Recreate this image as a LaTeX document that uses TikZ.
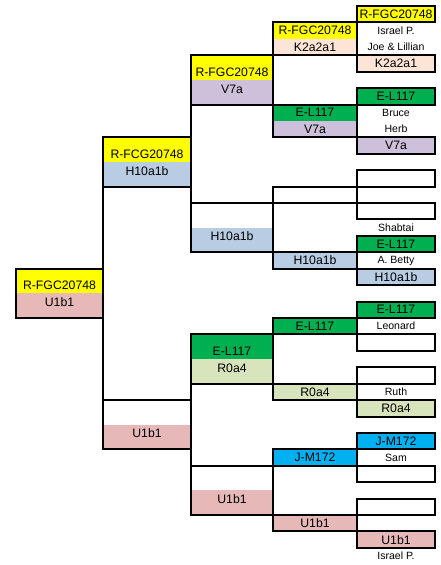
\documentclass[tikz,border=0pt]{standalone}
\usepackage{fontspec}
\setmainfont{Liberation Sans}
\usetikzlibrary{positioning}
\usepackage{xcolor}
\definecolor{sunflower}{rgb}{1, 1, 0}
\definecolor{peach}{rgb}{0.98824, 0.89412, 0.83922}
\definecolor{lilac}{rgb}{0.8, 0.75294, 0.85490}
\definecolor{powder}{rgb}{0.72157, 0.8, 0.89412}
\definecolor{emerald}{rgb}{0, 0.69020, 0.31373}
\definecolor{sage}{rgb}{0.84706, 0.89412, 0.73725}
\definecolor{azure}{rgb}{0, 0.69020, 0.94118}
\definecolor{rose}{rgb}{0.90196, 0.72157, 0.71765}

\begin{document}
\begin{tikzpicture}[x=0.75pt, y=-12.315pt,
  cell/.style={rectangle, inner sep=0pt, outer sep=0pt, anchor=north west,
    minimum height=12.315pt, font=\fontsize{9.2}{11}\selectfont},
  boxed/.style={cell, draw, line width=1.5pt},
  top band/.style={cell, minimum height=18.47pt, text height=13.4pt, text depth=0pt},
  low band/.style={cell, minimum height=18.47pt, text height=6.6pt, text depth=5.25pt},
  person name/.style={cell, font=\fontsize{7.9}{9}\selectfont},
  tree line/.style={line width=1.5pt},
  gen0/.style={minimum width=65.25pt},
  gen1/.style={minimum width=66pt},
  gen2/.style={minimum width=61.5pt},
  gen3/.style={minimum width=63pt},
  gen4/.style={minimum width=58.5pt}]
	% x counts pixels, y counts rows of the chart (row 0 starts 6px down).
	\useasboundingbox (0,-0.3654) rectangle (441,34.044);

	% Great-grandparents: one boxed row each, the name next to it.
	\node[boxed, gen4, fill=sunflower] (ffff) at (357,0) {R-FGC20748};
	\node[person name, below=0pt of ffff] (ffff-name) {Israel P.};
	\node[boxed, gen4, fill=peach] (fffm) at (357,3) {K2a2a1};
	\node[person name, above=0pt of fffm] (fffm-name) {Joe \& Lillian};
	\node[boxed, gen4, fill=emerald] (ffmf) at (357,5) {E-L117};
	\node[person name, below=0pt of ffmf] (ffmf-name) {Bruce};
	\node[boxed, gen4, fill=lilac] (ffmm) at (357,8) {V7a};
	\node[person name, above=0pt of ffmm] (ffmm-name) {Herb};
	\node[boxed, gen4] (fmff) at (357,10) {};
	\node[boxed, gen4] (fmfm) at (357,12) {};
	\node[boxed, gen4, fill=emerald] (fmmf) at (357,14) {E-L117};
	\node[person name, above=0pt of fmmf] (fmmf-name) {Shabtai};
	\node[boxed, gen4, fill=powder] (fmmm) at (357,16) {H10a1b};
	\node[person name, above=0pt of fmmm] (fmmm-name) {A. Betty};
	\node[boxed, gen4, fill=emerald] (mfff) at (357,18) {E-L117};
	\node[person name, below=0pt of mfff] (mfff-name) {Leonard};
	\node[boxed, gen4] (mffm) at (357,20) {};
	\node[boxed, gen4] (mfmf) at (357,22) {};
	\node[boxed, gen4, fill=sage] (mfmm) at (357,24) {R0a4};
	\node[person name, above=0pt of mfmm] (mfmm-name) {Ruth};
	\node[boxed, gen4, fill=azure] (mmff) at (357,26) {J-M172};
	\node[person name, below=0pt of mmff] (mmff-name) {Sam};
	\node[boxed, gen4] (mmfm) at (357,28) {};
	\node[boxed, gen4] (mmmf) at (357,30) {};
	\node[boxed, gen4, fill=rose] (mmmm) at (357,32) {U1b1};
	\node[person name, below=0pt of mmmm] (mmmm-name) {Israel P.};

	% Grandparents' parents.
	\node[cell, gen3, fill=sunflower] (fff-y) at (273,1) {R-FGC20748};
	\node[cell, gen3, fill=peach, below=0pt of fff-y] (fff-mt) {K2a2a1};
	\draw[tree line] (fff-y.north west) rectangle (fff-mt.south east);
	\node[cell, gen3, fill=emerald] (ffm-y) at (273,6) {E-L117};
	\node[cell, gen3, fill=lilac, below=0pt of ffm-y] (ffm-mt) {V7a};
	\draw[tree line] (ffm-y.north west) rectangle (ffm-mt.south east);
	\node[boxed, gen3] (fmf) at (273,11) {};
	\node[boxed, gen3, fill=powder] (fmm) at (273,15) {H10a1b};
	\node[boxed, gen3, fill=emerald] (mff) at (273,19) {E-L117};
	\node[boxed, gen3, fill=sage] (mfm) at (273,23) {R0a4};
	\node[boxed, gen3, fill=azure] (mmf) at (273,27) {J-M172};
	\node[boxed, gen3, fill=rose] (mmm) at (273,31) {U1b1};

	% Grandparents: Y band over mt band.
	\node[top band, gen2, fill=sunflower] (ff-y) at (191,3) {R-FGC20748};
	\node[low band, gen2, fill=lilac, below=0pt of ff-y] (ff-mt) {V7a};
	\draw[tree line] (ff-y.north west) rectangle (ff-mt.south east);
	\node[top band, gen2] (fm-y) at (191,12) {};
	\node[low band, gen2, fill=powder, below=0pt of fm-y] (fm-mt) {H10a1b};
	\draw[tree line] (fm-y.north west) rectangle (fm-mt.south east);
	\node[top band, gen2, fill=emerald] (mf-y) at (191,20) {E-L117};
	\node[low band, gen2, fill=sage, below=0pt of mf-y] (mf-mt) {R0a4};
	\draw[tree line] (mf-y.north west) rectangle (mf-mt.south east);
	\node[top band, gen2] (mm-y) at (191,28) {};
	\node[low band, gen2, fill=rose, below=0pt of mm-y] (mm-mt) {U1b1};
	\draw[tree line] (mm-y.north west) rectangle (mm-mt.south east);

	% Parents.
	\node[top band, gen1, fill=sunflower] (f-y) at (103,8) {R-FCG20748};
	\node[low band, gen1, fill=powder, below=0pt of f-y] (f-mt) {H10a1b};
	\draw[tree line] (f-y.north west) rectangle (f-mt.south east);
	\node[top band, gen1] (m-y) at (103,24) {};
	\node[low band, gen1, fill=rose, below=0pt of m-y] (m-mt) {U1b1};
	\draw[tree line] (m-y.north west) rectangle (m-mt.south east);

	% The proband.
	\node[top band, gen0, fill=sunflower] (p-y) at (16,16) {R-FGC20748};
	\node[low band, gen0, fill=rose, below=0pt of p-y] (p-mt) {U1b1};
	\draw[tree line] (p-y.north west) rectangle (p-mt.south east);

	% Brackets from each father down to the mother.
	\draw[tree line] (ffff.north west) -- (fffm.south west);
	\draw[tree line] (ffmf.north west) -- (ffmm.south west);
	\draw[tree line] (fmff.north west) -- (fmfm.south west);
	\draw[tree line] (fmmf.north west) -- (fmmm.south west);
	\draw[tree line] (mfff.north west) -- (mffm.south west);
	\draw[tree line] (mfmf.north west) -- (mfmm.south west);
	\draw[tree line] (mmff.north west) -- (mmfm.south west);
	\draw[tree line] (mmmf.north west) -- (mmmm.south west);
	\draw[tree line] (fff-y.north west) -- (ffm-mt.south west);
	\draw[tree line] (fmf.north west) -- (fmm.south west);
	\draw[tree line] (mff.north west) -- (mfm.south west);
	\draw[tree line] (mmf.north west) -- (mmm.south west);
	\draw[tree line] (ff-y.north west) -- (fm-mt.south west);
	\draw[tree line] (mf-y.north west) -- (mm-mt.south west);
	\draw[tree line] (f-y.north west) -- (m-mt.south west);
\end{tikzpicture}
\end{document}
